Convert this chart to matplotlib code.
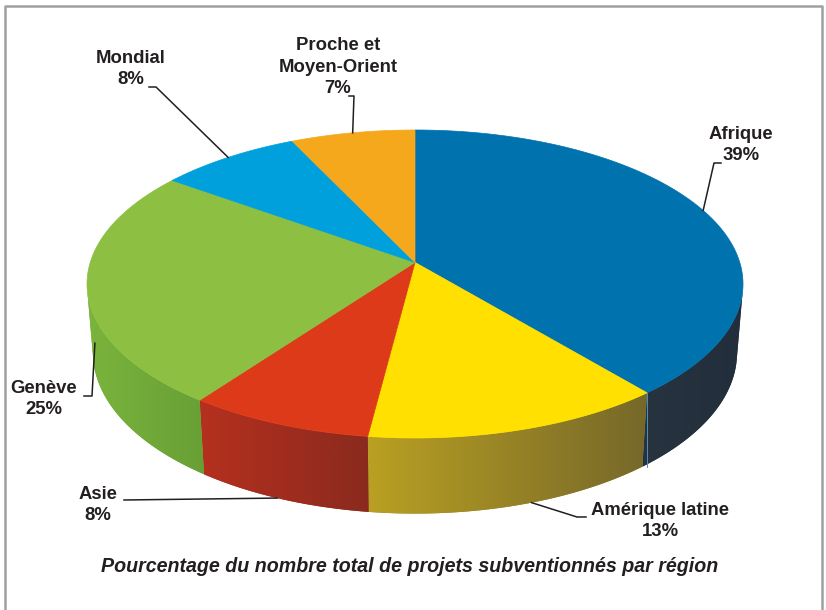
import numpy as np
import matplotlib.pyplot as plt
from matplotlib.patches import Polygon
from matplotlib.colors import to_rgb

# data
regions = ['Afrique', 'Amérique latine', 'Asie', 'Genève', 'Mondial', 'Proche et\nMoyen-Orient']
shares = [39, 13, 8, 25, 8, 7]

top_colors = ['#0072ae', '#ffe000', '#dd3a1a', '#8dc042', '#00a0dc', '#f5a81c']
side_left = ['#27333f', '#b9a022', '#b5301e', '#7ab43c', '#0088bb', '#d08e18']
side_right = ['#222e3b', '#76682a', '#8a2a1e', '#68a036', '#0078a8', '#b07a14']

# label layout: text centre, leader points (from text side), where the leader hits the pie
label_xy = [(741, 145), (660, 521), (98, 505), (44, 399), (131, 69), (338, 67)]
leader_pts = [[(721, 163), (714, 163)], [(586, 517), (577, 517)], [(124, 500)],
              [(84, 396), (92, 396)], [(149, 87), (156, 87)], [(349, 96), (354, 96)]]
anchor_frac = [0.49, 0.45, 0.52, 0.40, 0.5, 0.5]   # position along the slice arc
anchor_depth = [0, 1, 1, 0.45, 0, 0]              # 0 = top rim, 1 = bottom rim

TITLE = 'Pourcentage du nombre total de projets subventionnés par région'

# view
ELEV = np.radians(28)
DIST = 6.3
DEPTH = 0.245
BOX = (87, 743, 130, 438)  # x0, x1, y0, y1 of the top ellipse in pixels


def project_raw(theta, z):
    c, s = np.cos(ELEV), np.sin(ELEV)
    theta = np.asarray(theta, float)
    X, Y = np.cos(theta), np.sin(theta)
    zc = c * Y - s * z + DIST
    return X / zc, (s * Y + c * z) / zc


rim_t = np.linspace(0, 2 * np.pi, 2000)
rx, ry = project_raw(rim_t, 0)
XMIN, XMAX, YMIN, YMAX = rx.min(), rx.max(), ry.min(), ry.max()


def raw_to_px(sx, sy):
    px = BOX[0] + (sx - XMIN) / (XMAX - XMIN) * (BOX[1] - BOX[0])
    py = BOX[2] + (YMAX - sy) / (YMAX - YMIN) * (BOX[3] - BOX[2])
    return px, py


def to_px(theta, z):
    return raw_to_px(*project_raw(theta, z))


def lerp(c1, c2, t):
    a, b = np.array(to_rgb(c1)), np.array(to_rgb(c2))
    return a + (b - a) * t


fig = plt.figure(figsize=(8.26, 6.10), dpi=100)
ax = fig.add_axes([0, 0, 1, 1])

# frame
ax.plot([5, 5, 822, 822], [640, 5.5, 5.5, 640], color='#a0a0a0', lw=1.8, solid_capstyle='butt')

total = float(sum(shares))
bounds = [np.pi / 2]
for v in shares:
    bounds.append(bounds[-1] - 2 * np.pi * v / total)

alpha = np.arcsin(1 / (DIST * np.cos(ELEV)))
vis_lo, vis_hi = -np.pi + alpha, -alpha

# side walls
for i in range(len(shares)):
    a1, a2 = bounds[i], bounds[i + 1]
    lo, hi = max(a2, vis_lo), min(a1, vis_hi)
    if lo >= hi:
        continue
    t = np.linspace(hi, lo, 200)
    tx, ty = to_px(t, 0)
    bx, by = to_px(t, -DEPTH)
    pts = np.column_stack([np.concatenate([tx, bx[::-1]]), np.concatenate([ty, by[::-1]])])
    poly = Polygon(pts, closed=True, facecolor=lerp(side_left[i], side_right[i], 0.5),
                   edgecolor='none', zorder=2)
    ax.add_patch(poly)
    x0, x1 = pts[:, 0].min(), pts[:, 0].max()
    y0, y1 = pts[:, 1].min(), pts[:, 1].max()
    grad = np.array([lerp(side_left[i], side_right[i], f) for f in np.linspace(0, 1, 64)])
    img = ax.imshow(grad[np.newaxis, :, :], extent=(x0, x1, y1, y0), aspect='auto',
                    interpolation='bilinear', zorder=3)
    img.set_clip_path(poly)

# thin light edge where the blue slice meets the yellow one on the side
a = bounds[1]
ex, ey = to_px(a, 0)
_, by2 = to_px(a, -DEPTH)
ax.plot([ex, ex], [ey, by2], color='#4a90c0', lw=0.7, zorder=4)

# top face, the centre of the pie seen in perspective
vx, vy = raw_to_px(0.0, 0.0)
for i in range(len(shares)):
    t = np.linspace(bounds[i], bounds[i + 1], 200)
    tx, ty = to_px(t, 0)
    pts = np.column_stack([np.concatenate([[vx], tx]), np.concatenate([[vy], ty])])
    ax.add_patch(Polygon(pts, closed=True, facecolor=top_colors[i], edgecolor=top_colors[i],
                         lw=0.5, zorder=5))

# labels and leader lines
for i, name in enumerate(regions):
    a1, a2 = bounds[i], bounds[i + 1]
    th = a1 + (a2 - a1) * anchor_frac[i]
    axp, ayp = to_px(th, -DEPTH * anchor_depth[i])
    line = leader_pts[i] + [(float(axp), float(ayp))]
    ax.plot([p[0] for p in line], [p[1] for p in line], color='#231f20', lw=1.1, zorder=6)
    ax.text(label_xy[i][0], label_xy[i][1], f'{name}\n{shares[i]}%', ha='center', va='center',
            fontsize=13.3, fontweight='bold', family='Liberation Sans', color='#231f20',
            linespacing=1.36, zorder=7)

ax.text(410, 567, TITLE, ha='center', va='center', fontsize=14.1, fontweight='bold',
        fontstyle='italic', family='Liberation Sans', color='#231f20')

ax.set_xlim(0, 826)
ax.set_ylim(610, 0)
ax.axis('off')

fig.savefig('out.png', dpi=100)
